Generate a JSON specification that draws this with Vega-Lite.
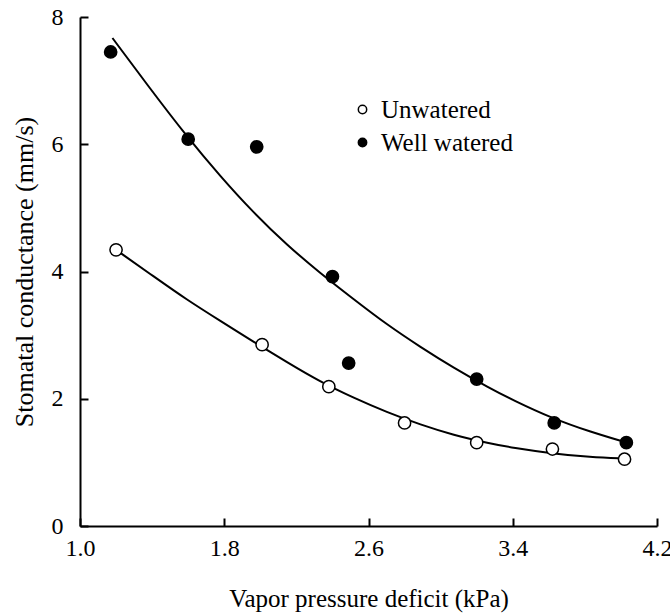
{
  "$schema": "https://vega.github.io/schema/vega-lite/v6.json",
  "width": 577,
  "height": 509,
  "autosize": {"type": "none"},
  "padding": {"left": 80, "top": 17, "right": 13, "bottom": 87},
  "background": "white",
  "config": {
    "view": {"stroke": null},
    "font": "Liberation Serif",
    "axis": {
      "domainColor": "black",
      "domainWidth": 2,
      "tickColor": "black",
      "tickWidth": 2,
      "tickSize": -8,
      "grid": false,
      "labelFont": "Liberation Serif",
      "labelFontSize": 24,
      "labelColor": "black",
      "labelFlush": false,
      "titleFont": "Liberation Serif",
      "titleFontSize": 25,
      "titleFontWeight": "normal",
      "titleColor": "black"
    }
  },
  "datasets": {
    "points": [
      {"series": "Unwatered", "vpd": 1.20, "gs": 4.34},
      {"series": "Unwatered", "vpd": 2.01, "gs": 2.85},
      {"series": "Unwatered", "vpd": 2.38, "gs": 2.19},
      {"series": "Unwatered", "vpd": 2.80, "gs": 1.62},
      {"series": "Unwatered", "vpd": 3.20, "gs": 1.31},
      {"series": "Unwatered", "vpd": 3.62, "gs": 1.21},
      {"series": "Unwatered", "vpd": 4.02, "gs": 1.05},
      {"series": "Well watered", "vpd": 1.17, "gs": 7.45},
      {"series": "Well watered", "vpd": 1.60, "gs": 6.08},
      {"series": "Well watered", "vpd": 1.98, "gs": 5.96},
      {"series": "Well watered", "vpd": 2.40, "gs": 3.92},
      {"series": "Well watered", "vpd": 2.49, "gs": 2.56},
      {"series": "Well watered", "vpd": 3.20, "gs": 2.31},
      {"series": "Well watered", "vpd": 3.63, "gs": 1.62},
      {"series": "Well watered", "vpd": 4.03, "gs": 1.31}
    ],
    "curves": [
      {"series": "Unwatered", "vpd": 1.21, "gs": 4.32},
      {"series": "Unwatered", "vpd": 1.41, "gs": 3.92},
      {"series": "Unwatered", "vpd": 1.59, "gs": 3.56},
      {"series": "Unwatered", "vpd": 1.78, "gs": 3.22},
      {"series": "Unwatered", "vpd": 1.96, "gs": 2.90},
      {"series": "Unwatered", "vpd": 2.15, "gs": 2.57},
      {"series": "Unwatered", "vpd": 2.33, "gs": 2.27},
      {"series": "Unwatered", "vpd": 2.52, "gs": 2.01},
      {"series": "Unwatered", "vpd": 2.70, "gs": 1.79},
      {"series": "Unwatered", "vpd": 2.89, "gs": 1.59},
      {"series": "Unwatered", "vpd": 3.07, "gs": 1.43},
      {"series": "Unwatered", "vpd": 3.27, "gs": 1.30},
      {"series": "Unwatered", "vpd": 3.40, "gs": 1.23},
      {"series": "Unwatered", "vpd": 3.62, "gs": 1.14},
      {"series": "Unwatered", "vpd": 3.83, "gs": 1.08},
      {"series": "Unwatered", "vpd": 4.02, "gs": 1.06},
      {"series": "Well watered", "vpd": 1.18, "gs": 7.67},
      {"series": "Well watered", "vpd": 1.39, "gs": 6.87},
      {"series": "Well watered", "vpd": 1.59, "gs": 6.13},
      {"series": "Well watered", "vpd": 1.78, "gs": 5.49},
      {"series": "Well watered", "vpd": 1.96, "gs": 4.93},
      {"series": "Well watered", "vpd": 2.15, "gs": 4.41},
      {"series": "Well watered", "vpd": 2.33, "gs": 3.98},
      {"series": "Well watered", "vpd": 2.52, "gs": 3.56},
      {"series": "Well watered", "vpd": 2.70, "gs": 3.17},
      {"series": "Well watered", "vpd": 2.89, "gs": 2.81},
      {"series": "Well watered", "vpd": 3.07, "gs": 2.49},
      {"series": "Well watered", "vpd": 3.27, "gs": 2.17},
      {"series": "Well watered", "vpd": 3.40, "gs": 1.98},
      {"series": "Well watered", "vpd": 3.62, "gs": 1.69},
      {"series": "Well watered", "vpd": 3.83, "gs": 1.48},
      {"series": "Well watered", "vpd": 4.02, "gs": 1.32}
    ]
  },
  "encoding": {
    "x": {
      "field": "vpd",
      "type": "quantitative",
      "scale": {"domain": [1.0, 4.2], "nice": false, "zero": false},
      "axis": {
        "values": [1.0, 1.8, 2.6, 3.4, 4.2],
        "format": ".1f",
        "title": "Vapor pressure deficit (kPa)",
        "labelPadding": 18,
        "titlePadding": 26
      }
    },
    "y": {
      "field": "gs",
      "type": "quantitative",
      "scale": {"domain": [0, 8], "nice": false},
      "axis": {
        "values": [0, 2, 4, 6, 8],
        "format": "d",
        "title": "Stomatal conductance (mm/s)",
        "labelPadding": 25,
        "titlePadding": 14,
        "titleFontSize": 26
      }
    }
  },
  "layer": [
    {
      "data": {"name": "curves"},
      "mark": {"type": "line", "interpolate": "basis", "color": "black", "strokeWidth": 2},
      "encoding": {"detail": {"field": "series"}}
    },
    {
      "data": {"name": "points"},
      "mark": {"type": "point", "shape": "circle", "size": 150, "stroke": "black", "strokeWidth": 1.5, "opacity": 1},
      "encoding": {
        "fill": {
          "field": "series",
          "type": "nominal",
          "scale": {"domain": ["Unwatered", "Well watered"], "range": ["white", "black"]},
          "legend": {
            "title": null,
            "orient": "none",
            "legendX": 270,
            "legendY": 80,
            "symbolType": "circle",
            "symbolSize": 70,
            "symbolStrokeColor": "black",
            "symbolStrokeWidth": 1.5,
            "labelFont": "Liberation Serif",
            "labelFontSize": 25,
            "labelColor": "black",
            "labelOffset": 6,
            "rowPadding": 7
          }
        }
      }
    }
  ]
}
